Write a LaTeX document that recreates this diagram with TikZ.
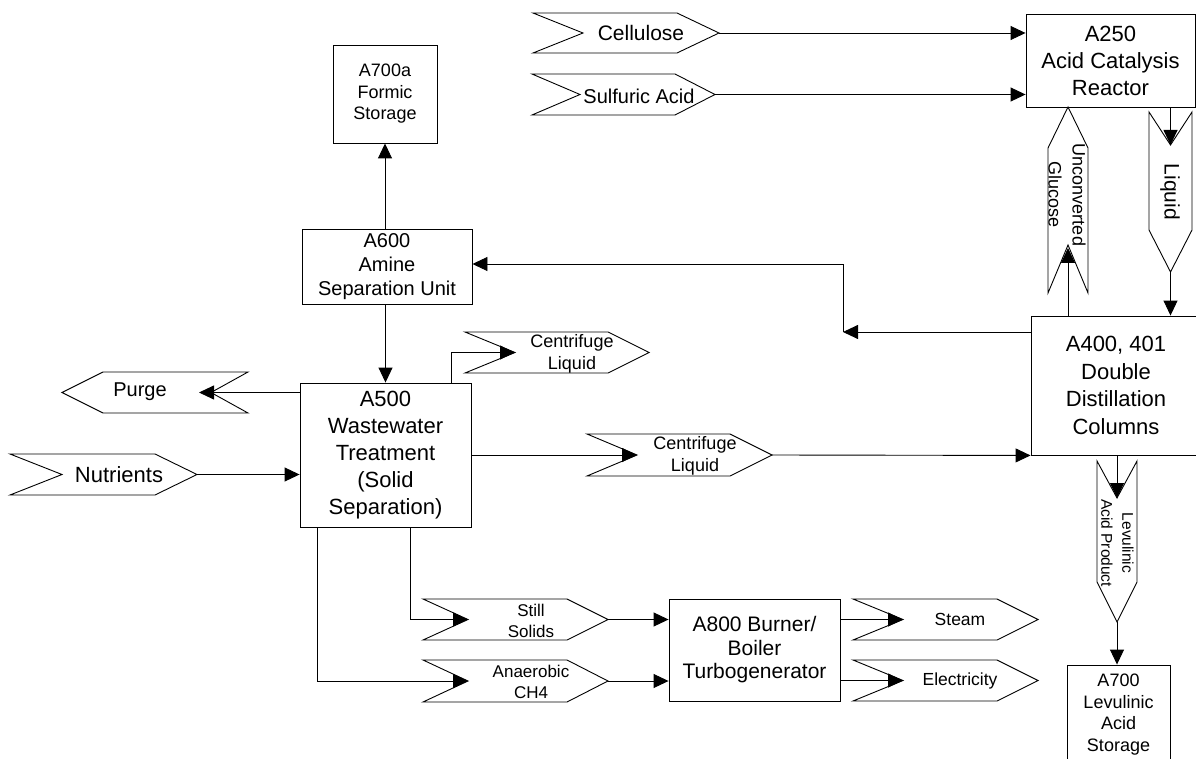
\documentclass[tikz,border=0pt]{standalone}
\usepackage{fontspec}
\setmainfont{Liberation Sans}
\usetikzlibrary{arrows.meta}

% font size / line skip in one step
\newcommand\fsz[2]{\fontsize{#1}{#2}\selectfont}

% stream chevrons: name, left, right, top, bottom, notch depth, point depth
\newcommand\chevE[7]{%
  \draw[chev] (#2,#4) -- ({#3-#7},#4) -- (#3,{(#4+#5)/2}) -- ({#3-#7},#5)
    -- (#2,#5) -- ({#2+#6},{(#4+#5)/2}) -- cycle;
  \coordinate (#1-in) at ({#2+#6},{(#4+#5)/2});
  \coordinate (#1-out) at (#3,{(#4+#5)/2});}
% left pointing: name, tip x, right, top, bottom, point depth, notch depth
\newcommand\chevW[7]{%
  \draw[chev] (#2,{(#4+#5)/2}) -- ({#2+#6},#4) -- (#3,#4) -- ({#3-#7},{(#4+#5)/2})
    -- (#3,#5) -- ({#2+#6},#5) -- cycle;
  \coordinate (#1-in) at ({#3-#7},{(#4+#5)/2});
  \coordinate (#1-out) at (#2,{(#4+#5)/2});}
% down pointing: name, left, right, top, tip y, notch depth, point depth
\newcommand\chevS[7]{%
  \draw[chev] (#2,#4) -- ({(#2+#3)/2},{#4+#6}) -- (#3,#4) -- (#3,{#5-#7})
    -- ({(#2+#3)/2},#5) -- (#2,{#5-#7}) -- cycle;
  \coordinate (#1-in) at ({(#2+#3)/2},{#4+#6});
  \coordinate (#1-out) at ({(#2+#3)/2},#5);}
% up pointing: name, left, right, tip y, bottom, point depth, notch depth
\newcommand\chevN[7]{%
  \draw[chev] ({(#2+#3)/2},#4) -- (#3,{#4+#6}) -- (#3,#5) -- ({(#2+#3)/2},{#5-#7})
    -- (#2,#5) -- (#2,{#4+#6}) -- cycle;
  \coordinate (#1-in) at ({(#2+#3)/2},{#5-#7});
  \coordinate (#1-out) at ({(#2+#3)/2},#4);}

\tikzset{
  chev/.style={draw=black, fill=white, line width=0.9pt, line join=miter},
  box/.style={draw=black, fill=white, line width=0.9pt, align=center, inner sep=0pt},
  lbl/.style={align=center, inner sep=0pt},
  arr/.style={line width=0.9pt, -{Triangle[length=15pt,width=14pt]}},
  plain/.style={line width=0.9pt}
}

\begin{document}
\begin{tikzpicture}[x=1pt,y=-1pt]
\useasboundingbox (0,0) rectangle (1196,759);
\fill[white] (0,0) rectangle (1196,759);
\clip (0,0) rectangle (1196,759);

% process units
\node[box, minimum width=169, minimum height=93, font=\fsz{22}{27}] (a250) at (1110.5,60.5)
  {A250\\Acid Catalysis\\Reactor};
\node[box, minimum width=170, minimum height=139, font=\fsz{22}{27.5}] (a400) at (1116,385.5)
  {A400, 401\\Double\\Distillation\\Columns};
\node[box, minimum width=170, minimum height=75, font=\fsz{20}{24}] (a600) at (387,266.5)
  {A600\\Amine\\Separation Unit};
\node[box, minimum width=104, minimum height=98, font=\fsz{18}{21.5}] (a700a) at (385,94)
  {A700a\\Formic\\Storage};
\node[box, minimum width=171, minimum height=144, font=\fsz{22}{27}] (a500) at (385.5,455)
  {A500\\Wastewater\\Treatment\\(Solid\\Separation)};
\node[box, minimum width=171, minimum height=102, font=\fsz{21}{23.5}] (a800) at (754.5,650)
  {A800 Burner/\\Boiler\\Turbogenerator};
\node[box, minimum width=103, minimum height=99, font=\fsz{18}{21.5}] (a700) at (1118.5,714.5)
  {A700\\Levulinic\\Acid\\Storage};

% streams
\chevE{cell}{533}{719}{13}{53}{50}{42}
\node[lbl, font=\fsz{21}{25}] (cellt) at (641,33) {Cellulose};
\chevE{sulf}{532}{715}{74}{115}{48}{40}
\node[lbl, font=\fsz{20}{24}] (sulft) at (639,96) {Sulfuric Acid};
\chevE{nutr}{10}{197}{454}{495}{52}{42}
\node[lbl, font=\fsz{22}{26}] (nutrt) at (119,475) {Nutrients};
\chevW{purge}{62}{248}{372}{413}{41}{37}
\node[lbl, font=\fsz{20}{24}] (purget) at (140,392) {Purge};
\chevE{ctop}{465}{649}{332}{373}{50}{41}
\node[lbl, font=\fsz{18}{22}] (ctopt) at (572,354) {Centrifuge\\Liquid};
\chevE{cmid}{587}{772}{434}{476}{50}{42}
\node[lbl, font=\fsz{18}{22}] (cmidt) at (695,456) {Centrifuge\\Liquid};
\chevE{still}{423}{608}{599}{640}{45}{41}
\node[lbl, font=\fsz{17}{21}] (stillt) at (531,621) {Still\\Solids};
\chevE{ana}{423}{608}{660}{702}{45}{41}
\node[lbl, font=\fsz{17}{21}] (anat) at (531,682) {Anaerobic\\CH4};
\chevE{steam}{853}{1038}{599}{640}{50}{41}
\node[lbl, font=\fsz{17.5}{21}] (steamt) at (960,619) {Steam};
\chevE{elec}{853}{1038}{660}{701}{50}{41}
\node[lbl, font=\fsz{17.5}{21}] (elect) at (960,681) {Electricity};
\chevS{liq}{1149}{1192}{112}{272}{33}{42}
\node[lbl, rotate=-90, font=\fsz{21}{25}] (liqt) at (1170,192) {Liquid};
\chevS{lev}{1097}{1137}{461}{622}{37}{40}
\node[lbl, rotate=-90, font=\fsz{15.5}{21}] (levt) at (1117.5,543) {Levulinic\\Acid Product};
\chevN{gluc}{1048}{1088}{107}{293}{41}{48}
\node[lbl, rotate=-90, font=\fsz{18}{24}] (glut) at (1067,195) {Unconverted\\Glucose};

% connectors
\draw[arr] (cell-out) -- (a250.west |- cell-out);
\draw[arr] (sulf-out) -- (a250.west |- sulf-out);
\draw[arr] (a250.south -| liq-in) -- (liq-in);
\draw[arr] (liq-out) -- (a400.north -| liq-out);
\draw[arr] (a400.north -| gluc-in) -- ([yshift=-3pt]gluc-in);

\coordinate (recy) at (843,332);
\draw[arr] (a400.west |- recy) -- (recy);
\draw[arr] (recy) |- ([yshift=2.5pt]a600.east);

\draw[arr] (a600.north -| a700a.south) -- (a700a.south);
\draw[arr] (a600.south -| a500.north) -- (a500.north);

\draw[arr] (a500.west |- purge-in) -- ([xshift=-12pt]purge-in);
\draw[arr] (nutr-out) -- (a500.west |- nutr-out);
\draw[arr] ([xshift=152pt]a500.north west) |- (ctop-in);
\draw[arr] (a500.east |- cmid-in) -- (cmid-in);
\draw[arr] (cmid-out) -- (a400.south west);

\draw[arr] (a400.south -| lev-in) -- (lev-in);
\draw[arr] (lev-out) -- (a700.north -| lev-out);

\draw[arr] ([xshift=111pt]a500.south west) |- (still-in);
\draw[arr] ([xshift=18pt]a500.south west) |- (ana-in);
\draw[arr] (still-out) -- (a800.west |- still-out);
\draw[arr] (ana-out) -- (a800.west |- ana-out);
\draw[arr] (a800.east |- steam-in) -- (steam-in);
\draw[arr] (a800.east |- elec-in) -- (elec-in);
\end{tikzpicture}
\end{document}
